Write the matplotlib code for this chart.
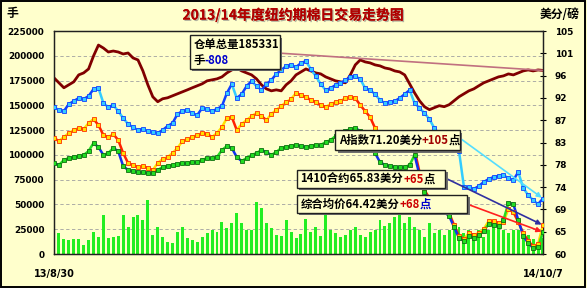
import numpy as np
import matplotlib
matplotlib.use("Agg")
import matplotlib.pyplot as plt
import matplotlib.patheffects as pe
from matplotlib.collections import LineCollection
from matplotlib.patches import Rectangle
from matplotlib.ticker import FuncFormatter

plt.rcParams['font.family'] = ['Noto Sans CJK SC', 'DejaVu Sans']

# =============================================================================
# Data (one point per ~3 trading days, 13/8/30 .. 14/10/7)

x_labels = ["13/8/30", "14/10/7"]

# warehouse receipts (lots, left axis)
receipts = [177800, 172800, 167800, 170800, 173800, 180800, 182800, 186800, 199900, 210900,
            207900, 203900, 204900, 203900, 201900, 202900, 197900, 195900, 184800, 170800,
            158700, 153700, 156700, 157700, 159700, 161700, 163700, 165700, 167800, 169800,
            171800, 174800, 175800, 176800, 178800, 182800, 185800, 187800, 184800, 182800,
            180800, 176800, 170800, 166700, 164700, 165700, 164700, 170800, 174800, 180800,
            183800, 186800, 184800, 182800, 181800, 178800, 176800, 174800, 173800, 172800,
            180800, 190900, 195900, 193900, 192900, 190900, 189900, 187800, 186800, 184800,
            183800, 180800, 171800, 162700, 154700, 148700, 145700, 147700, 149700, 148700,
            150700, 154700, 158700, 161700, 164700, 166700, 169800, 172800, 174800, 176800,
            178800, 179800, 181800, 180800, 182800, 184800, 185800, 184800, 185800, 185331]

# daily volume (lots, left axis)
volume = [19000, 21000, 15000, 14000, 15000, 15000, 9000, 14000, 22000, 17000,
          39000, 16000, 17000, 18000, 39000, 27000, 37000, 39000, 34000, 55000,
          19000, 27000, 17000, 12000, 11000, 22000, 27000, 16000, 14000, 12000,
          17000, 21000, 24000, 22000, 32000, 26000, 31000, 41000, 31000, 24000,
          24000, 52000, 46000, 31000, 26000, 19000, 18000, 34000, 22000, 16000,
          20000, 35000, 22000, 27000, 18000, 40000, 24000, 21000, 17000, 19000,
          24000, 27000, 19000, 17000, 22000, 24000, 34000, 28000, 31000, 37000,
          39000, 31000, 37000, 27000, 24000, 17000, 31000, 21000, 24000, 19000,
          24000, 31000, 27000, 21000, 24000, 21000, 24000, 17000, 24000, 27000,
          27000, 24000, 21000, 24000, 24000, 22000, 19000, 15000, 12000, 16000]

# Cotlook A index (cents/lb, right axis)
a_index = [89.66, 89.06, 88.85, 90.27, 90.87, 91.48, 91.28, 91.88, 93.29, 93.49,
           90.47, 89.66, 90.06, 88.85, 87.44, 86.23, 85.62, 85.02, 85.22, 84.82,
           84.62, 84.41, 85.02, 85.83, 86.43, 88.25, 88.85, 89.06, 88.45, 88.05,
           89.46, 89.26, 88.85, 89.26, 89.86, 92.49, 94.30, 91.48, 92.28, 93.90,
           94.91, 93.90, 93.09, 94.30, 95.11, 96.32, 97.13, 97.93, 98.14, 97.73,
           98.54, 98.94, 97.33, 95.92, 94.30, 93.09, 93.49, 94.10, 94.50, 95.11,
           95.71, 95.92, 95.31, 93.49, 93.09, 92.28, 91.07, 90.47, 90.67, 90.87,
           91.48, 92.28, 93.09, 90.47, 89.46, 88.45, 87.24, 85.42, 84.21, 83.20,
           82.20, 81.39, 80.78, 73.52, 73.52, 73.12, 73.72, 74.53, 75.13, 75.54,
           75.74, 75.94, 75.34, 74.93, 76.55, 73.32, 71.90, 70.89, 70.09, 71.20]

# ICE Oct-14 (1410) contract
contract = [83.41, 82.80, 83.61, 84.41, 85.02, 85.42, 85.22, 86.43, 87.24, 86.03,
            84.01, 83.61, 84.21, 83.00, 80.38, 78.36, 77.96, 77.55, 77.76, 77.35,
            76.95, 78.36, 79.17, 79.57, 80.38, 81.39, 82.80, 83.20, 83.61, 84.01,
            84.41, 84.21, 83.61, 84.41, 85.62, 87.44, 87.64, 85.02, 86.23, 87.04,
            87.84, 88.45, 87.84, 87.04, 88.25, 89.06, 89.86, 90.67, 91.28, 92.49,
            92.08, 91.68, 91.07, 90.67, 90.06, 89.66, 90.27, 90.67, 90.87, 91.48,
            91.68, 91.48, 90.06, 88.85, 87.64, 85.42, 83.81, 83.00, 82.60, 82.80,
            82.40, 82.60, 82.20, 80.98, 76.55, 72.91, 71.30, 70.29, 69.48, 68.87,
            68.27, 65.85, 63.63, 63.03, 64.24, 63.83, 64.24, 65.04, 66.66, 66.66,
            66.26, 66.46, 69.08, 68.47, 66.46, 64.24, 62.62, 61.61, 62.02, 65.83]

# composite average price
composite = [78.36, 77.96, 78.97, 79.37, 79.57, 79.77, 79.98, 80.78, 82.40, 81.59,
             79.98, 80.38, 81.39, 80.78, 77.76, 76.95, 76.75, 76.55, 76.55, 76.34,
             76.34, 76.95, 77.55, 77.76, 77.96, 78.16, 78.36, 78.36, 78.56, 78.56,
             78.97, 79.37, 79.37, 79.57, 80.98, 81.79, 81.39, 79.57, 78.76, 79.37,
             79.98, 80.38, 80.98, 80.58, 79.98, 80.58, 81.39, 81.59, 81.79, 81.99,
             81.79, 81.59, 81.79, 81.99, 81.99, 82.60, 83.00, 83.81, 84.41, 84.82,
             85.22, 85.42, 84.82, 83.61, 82.20, 80.38, 78.56, 77.96, 77.76, 77.55,
             77.55, 77.55, 77.96, 79.98, 75.94, 72.51, 70.90, 69.89, 69.08, 68.47,
             67.67, 65.45, 63.23, 62.62, 63.63, 63.23, 63.83, 64.64, 66.05, 65.85,
             65.65, 66.86, 70.29, 70.09, 66.86, 63.63, 62.22, 61.21, 61.41, 64.42]

BG = "#FFFFCC"
BOLD_NUM = dict(family="DejaVu Sans", fontweight="bold", fontsize=6.4)


def two_tone(ax, y, up, down, face, edge):
    # segments coloured by direction, plus small square markers
    x = np.arange(len(y))
    pts = np.column_stack([x, y])
    segs = np.stack([pts[:-1], pts[1:]], axis=1)
    cols = [up if b > a else down for a, b in zip(y[:-1], y[1:])]
    ax.add_collection(LineCollection(segs, colors=cols, linewidths=1.8, zorder=3))
    ax.plot(x, y, ls="none", marker="s", ms=2.2, mfc=face, mec=edge,
            mew=0.6, zorder=4)


def label_box(ax, x0, y0, x1, y1, lines):
    ax.add_patch(Rectangle((x0 + 0.005, y0 - 0.011), x1 - x0, y1 - y0,
                           transform=ax.transAxes, fc="#707070", ec="none",
                           zorder=10))
    ax.add_patch(Rectangle((x0, y0), x1 - x0, y1 - y0, transform=ax.transAxes,
                           fc=BG, ec="#202020", lw=1.0, zorder=11))
    for fy, parts in lines:
        prev = ax.text(x0 + 0.007, fy, parts[0][0], color=parts[0][1],
                       transform=ax.transAxes, ha="left", va="center",
                       fontsize=8.2, fontweight="bold", zorder=12)
        for txt, col in parts[1:]:
            prev = ax.annotate(txt, xy=(1, 0), xycoords=prev, ha="left",
                               va="bottom", color=col, fontsize=8.2,
                               fontweight="bold", zorder=12)


n = len(receipts)
x = np.arange(n)

fig = plt.figure(figsize=(5.87, 2.88), dpi=100, facecolor=BG)
ax1 = fig.add_axes([0.092, 0.118, 0.833, 0.774])
ax1.set_facecolor(BG)

ax1.bar(x, volume, width=0.6, color="#22EE22", zorder=2)
ax1.plot(x, receipts, color="#800000", lw=2.0, zorder=3)

ax1.set_xlim(0, n - 1)
ax1.set_ylim(0, 225000)
ax1.set_yticks(range(0, 225001, 25000))
ax1.yaxis.set_major_formatter(FuncFormatter(lambda v, p: "%d" % v))
ax1.yaxis.grid(True, ls=(0, (4, 3)), color="#A0A0A0", lw=0.6)
ax1.set_axisbelow(True)
ax1.set_xticks([0, n - 1])
ax1.set_xticklabels(x_labels)
ax1.tick_params(axis="x", length=0, pad=11)
ax1.tick_params(axis="y", length=0, pad=7)
for lab in ax1.get_xticklabels() + ax1.get_yticklabels():
    lab.set(**BOLD_NUM)
ax1.get_xticklabels()[0].set_fontsize(7)
ax1.get_xticklabels()[1].set_fontsize(7)

ax2 = ax1.twinx()
ax2.set_ylim(60, 105)
ax2.set_yticks(np.linspace(60, 105, 11))
ax2.yaxis.set_major_formatter(FuncFormatter(lambda v, p: "%d" % int(v + 0.5)))
ax2.tick_params(axis="y", direction="inout", length=5, pad=6)
for lab in ax2.get_yticklabels():
    lab.set(**BOLD_NUM)

for ax in (ax1, ax2):
    for sp in ax.spines.values():
        sp.set_color("#202020")
        sp.set_linewidth(0.9)

two_tone(ax2, a_index, "#1040FF", "#33CCFF", "#33CCFF", "#1040FF")
two_tone(ax2, contract, "#FFE000", "#FF2000", "#FFE000", "#FF3000")
two_tone(ax2, composite, "#22DD22", "#1030EE", "#22DD22", "#107010")

# leader lines from the boxes to the last points
ax1.annotate("", xy=(n - 1, receipts[-1]), xytext=(0.462, 0.901),
             textcoords="axes fraction",
             arrowprops=dict(arrowstyle="-", color="#C07080", lw=1.2,
                             shrinkA=0, shrinkB=0))
ax2.annotate("", xy=(n - 1, a_index[-1]), xytext=(0.830, 0.520),
             textcoords="axes fraction",
             arrowprops=dict(arrowstyle="-|>", color="#55DDFF", lw=1.2,
                             mutation_scale=7, shrinkA=0, shrinkB=1),
             zorder=5)
ax2.annotate("", xy=(n - 1, contract[-1]), xytext=(0.800, 0.341),
             textcoords="axes fraction",
             arrowprops=dict(arrowstyle="-|>", color="#3030A0", lw=1.2,
                             mutation_scale=7, shrinkA=0, shrinkB=1),
             zorder=5)
ax2.annotate("", xy=(n - 1, composite[-1]), xytext=(0.845, 0.224),
             textcoords="axes fraction",
             arrowprops=dict(arrowstyle="-|>", color="#FF2020", lw=1.2,
                             mutation_scale=7, shrinkA=0, shrinkB=1),
             zorder=5)

label_box(ax2, 0.278, 0.830, 0.462, 0.982,
          [(0.940, [("仓单总量185331", "black")]),
           (0.866, [("手", "black"), ("-808", "#0000CC")])])
label_box(ax2, 0.575, 0.466, 0.830, 0.556,
          [(0.511, [("A指数71.20美分", "black"), ("+105", "#A00000"), ("点", "black")])])
label_box(ax2, 0.497, 0.296, 0.800, 0.377,
          [(0.336, [("1410合约65.83美分", "black"), ("+65", "#CC0000"), ("点", "black")])])
label_box(ax2, 0.497, 0.184, 0.845, 0.265,
          [(0.224, [("综合均价64.42美分", "black"), ("+68", "#CC0000"), ("点", "#0000CC")])])

fig.text(0.499, 1 - 15 / 288, "2013/14年度纽约期棉日交易走势图", ha="center",
         va="center", fontsize=10, fontweight="bold", color="#B00000",
         path_effects=[pe.withSimplePatchShadow(offset=(1, -1),
                                                shadow_rgbFace="#808080",
                                                alpha=0.6), pe.Normal()])
fig.text(12 / 587, 1 - 14 / 288, "手", ha="center", va="center",
         fontsize=8.5, fontweight="bold")
fig.text(560 / 587, 1 - 15 / 288, "美分/磅", ha="center", va="center",
         fontsize=8.5, fontweight="bold")

fig.patches.append(Rectangle((0.002, 0.004), 0.995, 0.992,
                             transform=fig.transFigure, fill=False,
                             ec="black", lw=1.4))

fig.savefig("out.png", dpi=100, facecolor=BG)
